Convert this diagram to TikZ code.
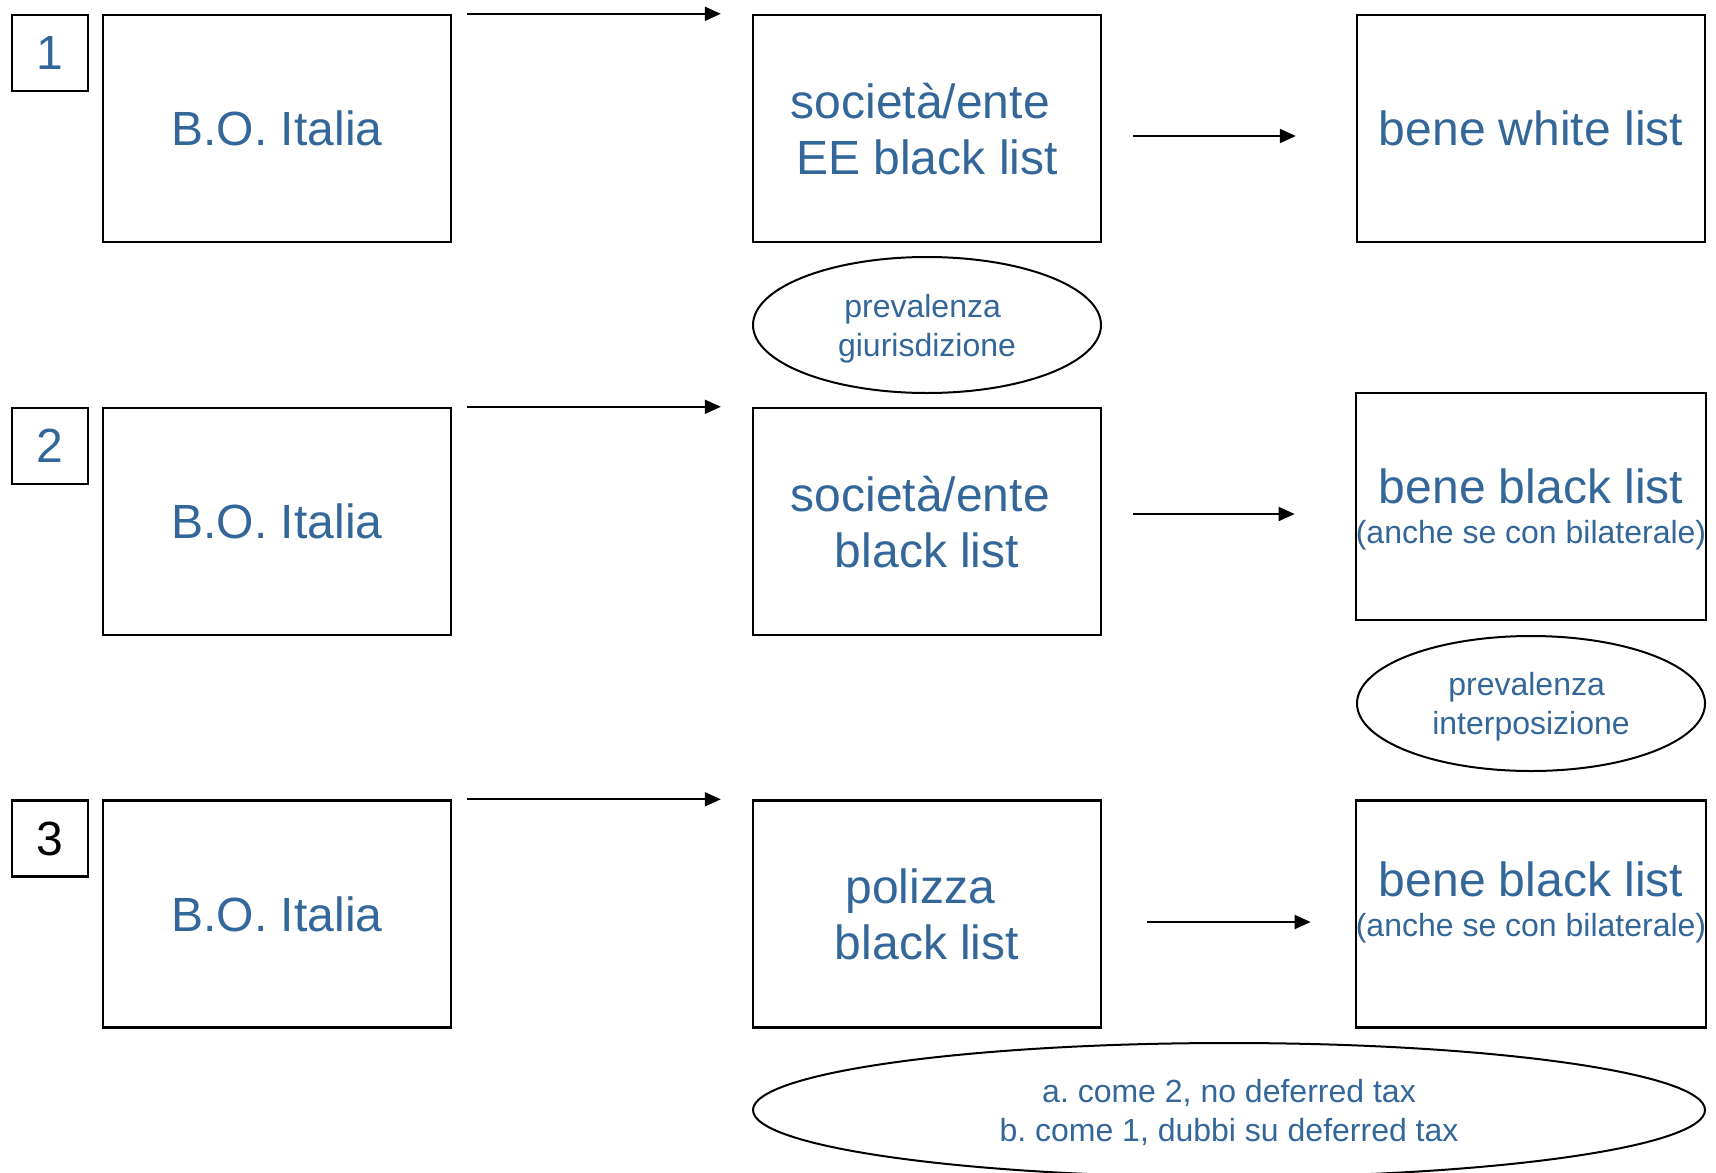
\documentclass[tikz,border=0pt]{standalone}
\usepackage{fontspec}
\setmainfont{Liberation Sans}
\usetikzlibrary{arrows.meta,shapes.geometric}
\definecolor{tblue}{RGB}{51,102,153}
\frenchspacing
\begin{document}
\begin{tikzpicture}[x=0.5pt,y=-0.5pt,
  bigbox/.style={draw, line width=1.2pt, minimum width=174pt, minimum height=113.5pt, inner sep=0pt, align=center, text=tblue, font=\fontsize{24}{28}\selectfont},
  bbbox/.style={draw, line width=1.2pt, minimum width=174pt, minimum height=113.5pt, inner sep=0pt, align=center, text=tblue, font=\fontsize{16}{20}\selectfont},
  numbox/.style={draw, line width=1.2pt, minimum width=38pt, minimum height=38pt, inner sep=0pt, font=\fontsize{24}{28}\selectfont},
  oval/.style={draw, ellipse, line width=1pt, inner sep=0pt, align=center, text=tblue, font=\fontsize{16}{19.5}\selectfont},
  arr/.style={-{Triangle[length=8pt,width=7pt]}, line width=1pt}]
\useasboundingbox (0,0) rectangle (1716,1172);

% row 1
\node[numbox, text=tblue, text depth=-2pt] (n1) at (50,53) {1};
\node[bigbox, text depth=-2.2pt] (bo1) at (277,128.5) {B.O. Italia};
\node[bigbox, text depth=-2.2pt] (soc1) at (927,128.5) {società/ente\hspace*{6.7pt}\\EE black list};
\node[bigbox, text depth=-1pt] (wl1) at (1531,128.5) {bene white list};
\node[oval, minimum width=174pt, minimum height=68pt, text depth=-2pt] (el1) at (927,325) {prevalenza\hspace*{4.4pt}\\giurisdizione};

% row 2
\node[numbox, text=tblue, text depth=-2pt] (n2) at (50,446) {2};
\node[bigbox, text depth=-2.2pt] (bo2) at (277,521.5) {B.O. Italia};
\node[bigbox, text depth=-2.2pt] (soc2) at (927,521.5) {società/ente\hspace*{6.7pt}\\black list};
\node[bbbox, text depth=-3.2pt] (bb2) at (1531,506.5) {{\fontsize{24}{28}\selectfont bene black list}\\(anche se con bilaterale)};
\node[oval, minimum width=174pt, minimum height=67.5pt, text depth=-1pt] (el2) at (1531,703.5) {prevalenza\hspace*{4.4pt}\\interposizione};

% row 3
\node[numbox, text=black, text depth=-2pt] (n3) at (50,838.5) {3};
\node[bigbox, text depth=-2.2pt] (bo3) at (277,914) {B.O. Italia};
\node[bigbox, text depth=-2.6pt] (pol3) at (927,914) {polizza\hspace*{6.7pt}\\black list};
\node[bbbox, text depth=14.5pt] (bb3) at (1531,914) {{\fontsize{24}{28}\selectfont bene black list}\\(anche se con bilaterale)};
\node[oval, minimum width=476pt, minimum height=67pt, text depth=-1.5pt] (el3) at (1229,1110) {a. come 2, no deferred tax\\b. come 1, dubbi su deferred tax};

% arrows
\draw[arr] ([xshift=7.5pt]bo1.north east) -- ([xshift=-15.5pt]soc1.north west);
\draw[arr] ([xshift=7.5pt]bo2.north east) -- ([xshift=-15.5pt]soc2.north west);
\draw[arr] ([xshift=7.5pt]bo3.north east) -- ([xshift=-15.5pt]pol3.north west);

\draw[arr] ([xshift=15.5pt,yshift=-3.75pt]soc1.east) -- ([xshift=-30pt,yshift=-3.75pt]wl1.west);
\draw[arr] ([xshift=15.5pt,yshift=3.75pt]soc2.east) -- ([xshift=-30pt,yshift=-3.75pt]bb2.west);
\draw[arr] ([xshift=22.5pt,yshift=-4pt]pol3.east) -- ([xshift=-22pt,yshift=-4pt]bb3.west);
\end{tikzpicture}
\end{document}
